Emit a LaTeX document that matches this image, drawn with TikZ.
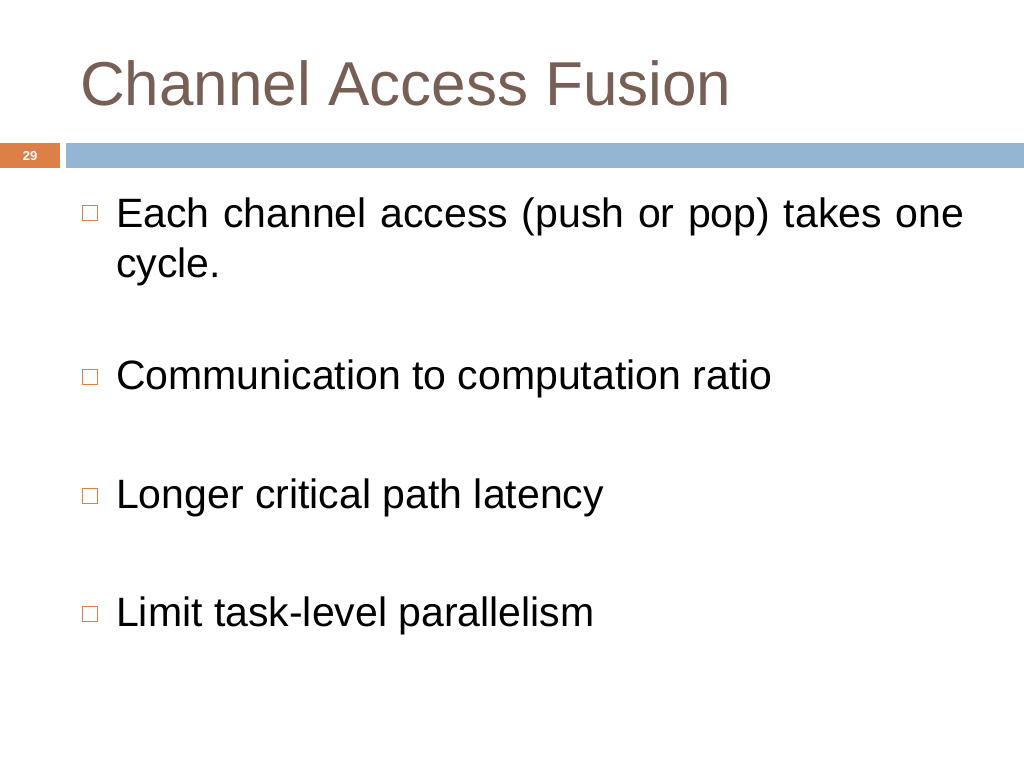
\documentclass[tikz,border=0pt]{standalone}
\usepackage{fontspec}
\setmainfont{Liberation Sans}
\usetikzlibrary{positioning}
\definecolor{titlebrown}{HTML}{775F55}
\definecolor{slideorange}{HTML}{DD8047}
\definecolor{slideblue}{HTML}{94B6D2}
\tikzset{
    itemtext/.style={anchor=base west, inner sep=0pt, font=\fontsize{41}{50}\selectfont},
    itembox/.style={draw=slideorange, line width=1.2pt, minimum size=15pt, inner sep=0pt}
}

\begin{document}
\begin{tikzpicture}[x=1pt, y=-1pt]
    \useasboundingbox[fill=white] (0,0) rectangle (1024,768);

    % title
    \node[anchor=base west, inner sep=0pt, text=titlebrown,
          font=\fontsize{62}{70}\selectfont] (title) at (80,105) {Channel Access Fusion};

    % page number and rule
    \node[fill=slideorange, minimum width=60pt, minimum height=25pt, inner sep=0pt,
          anchor=north west, text=white, font=\fontsize{13}{15}\selectfont\bfseries] (pagenum) at (0,143) {29};
    \node[fill=slideblue, minimum width=958pt, minimum height=25pt, inner sep=0pt,
          anchor=north west] (rule) at (66,143) {};

    % bullets
    \node[itemtext, text width=880pt, align=left] (item1) at (116,227) {Each channel access (push or pop) takes one\\cycle.};
    \node[itemtext] (item2) at (116,389) {Communication to computation ratio};
    \node[itemtext] (item3) at (116,508) {Longer critical path latency};
    \node[itemtext] (item4) at (116,626) {Limit task-level parallelism};

    \node[itembox] (box1) at (90,213) {};
    \node[itembox] (box2) at (90,377) {};
    \node[itembox] (box3) at (90,496) {};
    \node[itembox] (box4) at (90,614) {};
\end{tikzpicture}
\end{document}
